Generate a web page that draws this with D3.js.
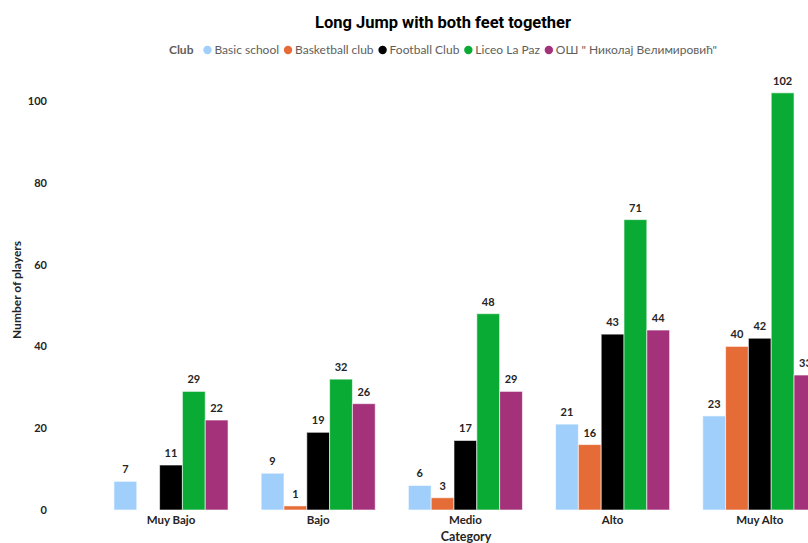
<!DOCTYPE html>
<html>
<head>
<meta charset="utf-8">
<script src="https://cdn.jsdelivr.net/npm/d3@7"></script>
<style>
  html, body { margin: 0; padding: 0; background: #fff; overflow: hidden; }
  svg { display: block; }
</style>
</head>
<body>
<svg id="chart" width="808" height="543"></svg>
<script>
// Grouped bar chart: number of players per category, by club
const categories = ["Muy Bajo", "Bajo", "Medio", "Alto", "Muy Alto"];
const clubs = ["Basic school", "Basketball club", "Football Club", "Liceo La Paz", "ОШ \" Николај Велимировић\""];
const basicSchool    = [7, 9, 6, 21, 23];
const basketballClub = [null, 1, 3, 16, 40];
const footballClub   = [11, 19, 17, 43, 42];
const liceoLaPaz     = [29, 32, 48, 71, 102];
const osNikolaj      = [22, 26, 29, 44, 33];
const yTicks = [0, 20, 40, 60, 80, 100];
const clubColors = ["#a0cffb", "#e66c37", "#000000", "#0aab34", "#a4327a"];

const seriesValues = [basicSchool, basketballClub, footballClub, liceoLaPaz, osNikolaj];
const rows = [];
categories.forEach((cat, ci) => {
  clubs.forEach((club, si) => {
    const v = seriesValues[si][ci];
    if (v != null) rows.push({ cat, club, si, value: v });
  });
});

const svg = d3.select("#chart");
const fontMain = "'Segoe UI', Lato, 'Open Sans', sans-serif";

const x = d3.scaleBand().domain(categories).range([97.4, 833.4])
  .paddingInner(0.225).paddingOuter(0.1125);
const xs = d3.scaleBand().domain(d3.range(clubs.length)).range([0, x.bandwidth()]);
const y = d3.scaleLinear().domain([0, 100]).range([510, 101]);

// Title
svg.append("text")
  .attr("x", 443).attr("y", 28)
  .attr("text-anchor", "middle")
  .attr("font-family", "Roboto, 'DejaVu Sans', sans-serif")
  .attr("font-weight", "bold").attr("font-size", 16.5)
  .attr("fill", "#000")
  .text("Long Jump with both feet together");

// Legend
const legend = svg.append("g").attr("font-family", fontMain).attr("font-size", 12);
const legendTitle = legend.append("text")
  .attr("y", 54).attr("font-weight", "bold").attr("fill", "#605e5c").text("Club");
let lx = legendTitle.node().getComputedTextLength() + 10;
clubs.forEach((club, i) => {
  const g = legend.append("g").attr("transform", `translate(${lx},0)`);
  g.append("circle").attr("cx", 4).attr("cy", 50).attr("r", 4.2).attr("fill", clubColors[i]);
  const t = g.append("text").attr("x", 11).attr("y", 54).attr("fill", "#605e5c").text(club);
  lx += 11 + t.node().getComputedTextLength() + 5;
});
const legendWidth = lx - 5;
legend.attr("transform", `translate(${443 - legendWidth / 2},0)`);

// Y axis
const yAxis = svg.append("g")
  .attr("transform", "translate(50,0)")
  .call(d3.axisLeft(y).tickValues(yTicks).tickSize(0).tickPadding(3));
yAxis.select(".domain").remove();
yAxis.selectAll("text")
  .attr("font-family", fontMain).attr("font-size", 11)
  .attr("font-weight", "bold").attr("fill", "#252423");

svg.append("text")
  .attr("transform", "translate(21,290) rotate(-90)")
  .attr("text-anchor", "middle")
  .attr("font-family", fontMain).attr("font-size", 12)
  .attr("font-weight", "bold").attr("fill", "#252423")
  .text("Number of players");

// X axis
const xAxis = svg.append("g")
  .attr("transform", "translate(0,512)")
  .call(d3.axisBottom(x).tickSize(0).tickPadding(4));
xAxis.select(".domain").remove();
xAxis.selectAll("text")
  .attr("font-family", fontMain).attr("font-size", 11.5)
  .attr("font-weight", "bold").attr("fill", "#252423");

svg.append("text")
  .attr("x", 466).attr("y", 541)
  .attr("text-anchor", "middle")
  .attr("font-family", fontMain).attr("font-size", 12.5)
  .attr("font-weight", "bold").attr("fill", "#252423")
  .text("Category");

// Bars
svg.append("g").selectAll("rect").data(rows).join("rect")
  .attr("x", d => x(d.cat) + xs(d.si))
  .attr("y", d => y(d.value))
  .attr("width", xs.bandwidth())
  .attr("height", d => y(0) - y(d.value))
  .attr("fill", d => clubColors[d.si])
  .attr("stroke", "#ffffff").attr("stroke-opacity", 0.6).attr("stroke-width", 1);

// Value labels
svg.append("g").selectAll("text").data(rows).join("text")
  .attr("x", d => x(d.cat) + xs(d.si) + xs.bandwidth() / 2)
  .attr("y", d => y(d.value) - 8)
  .attr("text-anchor", "middle")
  .attr("font-family", fontMain).attr("font-size", 11)
  .attr("font-weight", "bold").attr("fill", "#252423")
  .text(d => d.value);
</script>
</body>
</html>
